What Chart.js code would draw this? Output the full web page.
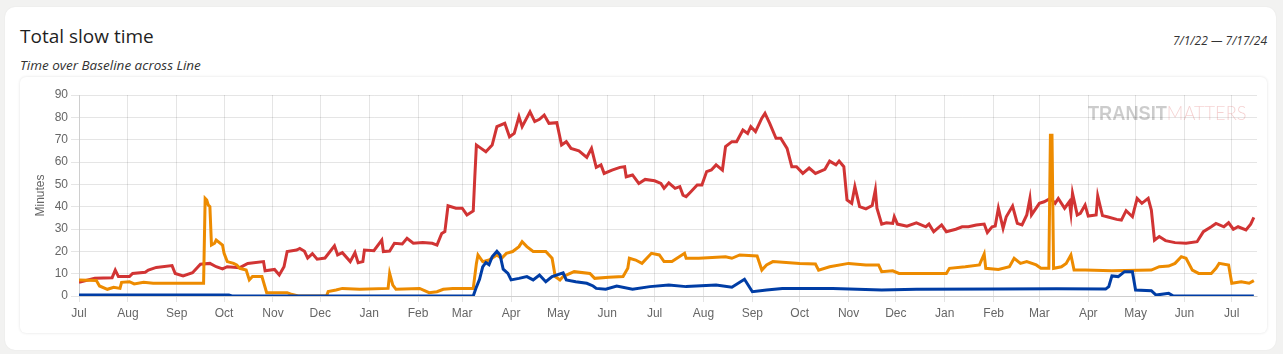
<!DOCTYPE html>
<html>
<head>
<meta charset="utf-8">
<script src="https://cdn.jsdelivr.net/npm/chart.js@4.4.1/dist/chart.umd.min.js"></script>
<style>
  html, body { margin: 0; padding: 0; background: #f2f2f1; }
  body { width: 1283px; height: 354px; position: relative; overflow: hidden; font-family: "Open Sans", "Noto Sans", sans-serif; }
  .card { position: absolute; left: 5px; top: 7px; width: 1271px; height: 343px; background: #fff; border-radius: 10px; box-shadow: 0 0 2px rgba(0,0,0,0.06); }
  .title { position: absolute; left: 20px; top: 23px; font-size: 19px; color: #1f1f1f; }
  .subtitle { position: absolute; left: 20px; top: 56px; font-size: 13.5px; font-style: italic; color: #333; }
  .range { position: absolute; right: 16px; top: 32px; font-size: 12px; font-style: italic; color: #333; }
  .box { position: absolute; left: 20px; top: 77px; width: 1247px; height: 256px; border-radius: 6px; box-shadow: 0 0 3px rgba(0,0,0,0.12); background: #fff; }
  .wrap { position: absolute; left: 22px; top: 80px; width: 1243px; height: 250px; }
</style>
</head>
<body>
<div class="card"></div>
<div class="title">Total slow time</div>
<div class="subtitle">Time over Baseline across Line</div>
<div class="range">7/1/22 — 7/17/24</div>
<div class="box"></div>
<div class="wrap"><canvas id="slowChart"></canvas></div>
<script>
// days counted from 2022-07-01
const startDate = Date.UTC(2022, 6, 1);
const lastDay = 747; // 2024-07-17

const monthLabels = ['Jul', 'Aug', 'Sep', 'Oct', 'Nov', 'Dec', 'Jan', 'Feb', 'Mar', 'Apr', 'May', 'Jun',
  'Jul', 'Aug', 'Sep', 'Oct', 'Nov', 'Dec', 'Jan', 'Feb', 'Mar', 'Apr', 'May', 'Jun', 'Jul'];
const yTicks = [0, 10, 20, 30, 40, 50, 60, 70, 80, 90];

// Red line
const redDays = [0, 10, 21, 23, 25, 32, 34, 42, 44, 49, 59, 61, 66, 72, 77, 83, 87, 91, 94, 102,
  107, 117, 118, 124, 127, 130, 132, 138, 140, 143, 145, 148, 151, 156, 162, 164, 167, 172, 175, 177,
  180, 181, 187, 192, 193, 197, 200, 205, 208, 212, 218, 224, 227, 230, 232, 234, 239, 243, 246, 250,
  251, 252, 255, 258, 262, 265, 270, 273, 276, 279, 281, 286, 289, 292, 295, 298, 303, 306, 309, 312,
  317, 322, 325, 328, 331, 333, 338, 343, 346, 347, 351, 355, 359, 365, 369, 371, 374, 378, 381, 383,
  385, 388, 392, 395, 398, 401, 404, 408, 410, 414, 417, 421, 424, 426, 429, 433, 435, 438, 442, 445,
  449, 452, 455, 459, 463, 467, 473, 476, 480, 482, 485, 487, 490, 492, 495, 499, 503, 505, 506, 509,
  512, 516, 517, 519, 525, 531, 537, 539, 542, 547, 550, 556, 560, 564, 569, 574, 576, 579, 581, 583,
  586, 588, 592, 595, 598, 601, 603, 604, 609, 612, 616, 619, 621, 625, 628, 629, 630, 633, 635, 638,
  640, 645, 646, 649, 652, 658, 661, 664, 668, 671, 674, 678, 680, 682, 685, 689, 695, 702, 709, 713,
  718, 721, 726, 729, 732, 735, 740, 743, 745];
const redMinutes = [6.1, 7.9, 8.2, 11.6, 8.7, 8.7, 10.1, 10.6, 11.6, 12.8, 13.6, 10.1, 9, 10.4, 14.2, 14.6, 13.1, 12.1, 13.1, 12.7,
  14.6, 15.4, 11.3, 11.9, 9.4, 13.1, 19.9, 20.6, 21.3, 20, 17, 19, 16.5, 17, 22.5, 18.4, 19.4, 15.4, 19.4, 14.9,
  15.4, 20.6, 20.3, 25, 19.9, 20.1, 23.6, 23.3, 25.8, 23.6, 23.9, 23.6, 22.8, 28, 28.8, 40.4, 39.3, 39.3, 36.3, 38.1,
  53.4, 67.6, 66.1, 64.6, 67.6, 75.8, 77.3, 71.3, 72.8, 80.3, 75.8, 82.5, 78.1, 79.1, 81, 77.3, 77.6, 67.6, 69.1, 66.1,
  65, 62.1, 66.1, 57.6, 58.7, 54.9, 56.4, 57.6, 57.9, 53.4, 54.2, 50.4, 52.2, 51.6, 50.4, 48.2, 50.7, 48.2, 49, 45.2,
  44.5, 46.7, 49.7, 49.7, 55.7, 56.4, 58.7, 56.4, 66.9, 69.1, 69.1, 74.3, 72.8, 75.8, 73.6, 79.6, 81.8, 77.3, 70.6, 70.6,
  66.1, 57.9, 57.9, 54.9, 57.3, 54.9, 56.7, 60.4, 58.7, 60.4, 57.9, 43, 41.5, 49, 40, 39, 40.5, 47.5, 39.3, 32.2,
  32.8, 32.5, 35.5, 32.2, 31.3, 32.8, 31, 32.2, 28.8, 31.8, 28.8, 29.9, 31, 31, 31.8, 32.2, 28.4, 31, 31.3, 39.3,
  30.3, 35.5, 40.3, 32.5, 31.8, 36.3, 43.7, 36.3, 41.5, 42.2, 43.7, 41.5, 43.7, 39.3, 42.2, 37, 46, 36.3, 37, 40.7,
  35.8, 36.3, 44.8, 36, 35.5, 34.3, 34, 38.2, 35.5, 43.7, 41.5, 43.7, 38.5, 25, 26.6, 24.8, 23.9, 23.6, 24.3, 28.8,
  31, 32.5, 31, 32.8, 29.9, 31, 29.6, 32.2, 35.2];

// Orange line
const orangeDays = [0, 11, 13, 18, 22, 26, 27, 32, 35, 41, 47, 79, 80, 81, 82, 83, 84, 86, 87, 91,
  92, 94, 98, 100, 102, 106, 108, 110, 116, 119, 132, 134, 139, 157, 158, 163, 167, 178, 196, 197,
  199, 201, 216, 222, 227, 231, 237, 250, 252, 253, 256, 260, 265, 268, 271, 275, 279, 281, 284, 288,
  296, 300, 302, 305, 307, 309, 314, 324, 327, 336, 345, 348, 349, 353, 357, 363, 368, 371, 376, 384,
  385, 393, 410, 414, 419, 430, 433, 436, 440, 457, 467, 469, 476, 488, 499, 507, 509, 516, 520, 550,
  552, 562, 571, 574, 575, 583, 590, 593, 597, 601, 607, 610, 615, 616, 617, 618, 623, 626, 629, 631,
  638, 655, 680, 685, 691, 695, 699, 702, 706, 710, 718, 721, 723, 729, 731, 737, 742, 745];
const orangeMinutes = [7.2, 6.9, 4.5, 3, 3.9, 3.4, 6.1, 6.4, 5.4, 6.1, 5.7, 5.7, 43.7, 43, 40.7, 40, 22.8, 23.6, 25, 22.8,
  19.1, 15.4, 14.6, 13.9, 12.4, 11.6, 7.2, 8.7, 8.7, 1.5, 1.5, 0.9, 0, 0, 2, 2.7, 3.4, 3, 3.4, 10.1,
  4.9, 3, 3.4, 1.5, 1.9, 3, 3.4, 3.4, 14.6, 18.4, 15.4, 16.1, 18.4, 16.9, 19.1, 19.9, 22.1, 24.3, 22.1, 19.9,
  19.9, 16.9, 8.7, 7.2, 8.7, 9.4, 10.9, 10.1, 7.9, 8.4, 8.7, 12.4, 16.9, 16.1, 14.6, 19.1, 18.4, 15.4, 15.4, 19.1,
  16.9, 16.9, 17.6, 16.9, 18.4, 17.9, 11.6, 13.9, 15.4, 14.6, 14.3, 11.6, 13.1, 14.6, 13.9, 13.9, 10.9, 11.3, 10.1, 10.1,
  12.4, 13.1, 13.9, 18.8, 12.4, 11.9, 13.1, 16.9, 14.6, 15.4, 13.9, 12.4, 12.4, 72, 72, 12.4, 13.1, 14.6, 18.4, 11.6,
  11.6, 11.3, 11.6, 13.1, 13.4, 14.6, 17.6, 16.9, 11.6, 10.1, 10.1, 12.4, 14.6, 13.9, 5.7, 6.4, 5.7, 6.9];

// Blue line
const blueDays = [0, 95, 97, 250, 252, 254, 256, 258, 260, 262, 265, 267, 269, 272, 274, 279, 284, 288, 292, 296,
  300, 307, 309, 315, 322, 326, 328, 334, 341, 351, 362, 374, 385, 404, 414, 422, 427, 436, 446, 478,
  509, 531, 583, 620, 651, 653, 655, 659, 663, 668, 670, 680, 683, 691, 694, 745];
const blueMinutes = [0.4, 0.4, 0, 0, 4, 7.5, 13, 15, 14, 17.6, 20, 18.4, 12, 10.1, 7.2, 7.9, 8.7, 7.2, 9.4, 6.4,
  8.7, 10.4, 7.2, 6.4, 5.7, 4.5, 3.4, 3, 4.5, 3, 4.2, 4.9, 4.2, 4.9, 3.9, 7.5, 1.9, 2.7, 3.4, 3.4,
  2.7, 3, 3.1, 3.3, 3.1, 4.2, 9, 8.7, 10.9, 10.9, 2.7, 2.4, 0.4, 1.2, 0, 0];

const toPoints = (days, values) => days.map((d, i) => ({ x: d, y: values[i] }));

const monthStarts = monthLabels.map((m, i) =>
  Math.round((Date.UTC(2022, 6 + i, 1) - startDate) / 86400000));

const watermark = {
  id: 'watermark',
  afterDraw(chart) {
    const { ctx, chartArea } = chart;
    ctx.save();
    ctx.textBaseline = 'alphabetic';
    ctx.translate(chartArea.right - 169, chartArea.top + 25);
    ctx.scale(0.91, 1);
    ctx.font = 'bold 20px "Liberation Sans", Arial, sans-serif';
    ctx.fillStyle = 'rgba(0, 0, 0, 0.2)';
    ctx.fillText('TRANSIT', 0, 0);
    const w = ctx.measureText('TRANSIT').width;
    ctx.font = '300 20px "Lato", "Liberation Sans", sans-serif';
    ctx.fillStyle = 'rgba(209, 52, 52, 0.22)';
    ctx.fillText('MATTERS', w, 0);
    ctx.restore();
  }
};

const tickFont = { family: '"Liberation Sans", Arial, sans-serif', size: 12 };

new Chart(document.getElementById('slowChart'), {
  type: 'line',
  data: {
    datasets: [
      { label: 'Blue', data: toPoints(blueDays, blueMinutes), borderColor: '#003da5' },
      { label: 'Orange', data: toPoints(orangeDays, orangeMinutes), borderColor: '#ed8b00' },
      { label: 'Red', data: toPoints(redDays, redMinutes), borderColor: '#d13434' }
    ]
  },
  options: {
    responsive: true,
    maintainAspectRatio: false,
    animation: false,
    elements: {
      line: { borderWidth: 3, tension: 0, fill: false },
      point: { radius: 0 }
    },
    layout: { padding: { left: 9, right: 8, top: 15, bottom: 0 } },
    plugins: {
      legend: { display: false },
      tooltip: { enabled: false }
    },
    scales: {
      x: {
        type: 'linear',
        min: 0,
        max: lastDay,
        afterBuildTicks: axis => {
          axis.ticks = monthStarts.map(v => ({ value: v }));
        },
        afterFit: axis => { axis.height = 34; },
        ticks: {
          color: '#666',
          font: tickFont,
          maxRotation: 0,
          autoSkip: false,
          padding: 4,
          callback: (value, index) => monthLabels[index]
        },
        grid: { color: 'rgba(0,0,0,0.1)', tickLength: 6 }
      },
      y: {
        min: 0,
        max: 90,
        afterBuildTicks: axis => {
          axis.ticks = yTicks.map(v => ({ value: v }));
        },
        afterFit: axis => { axis.width = 48; },
        title: { display: true, text: 'Minutes', color: '#666', font: tickFont, padding: 2 },
        ticks: { color: '#666', font: tickFont, padding: 3 },
        grid: { color: 'rgba(0,0,0,0.1)', tickLength: 8 }
      }
    }
  },
  plugins: [watermark]
});
</script>
</body>
</html>
